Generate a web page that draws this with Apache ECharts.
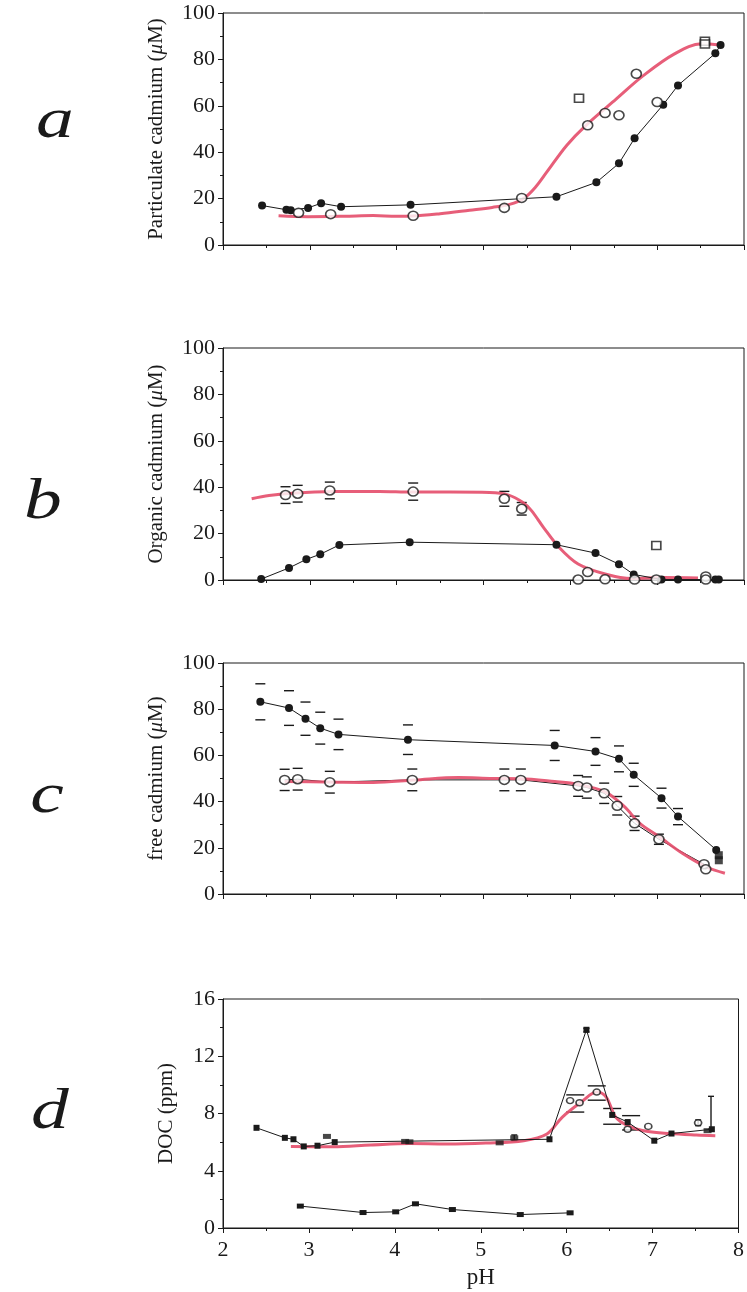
<!DOCTYPE html>
<html><head><meta charset="utf-8">
<script src="https://cdn.jsdelivr.net/npm/echarts@6/dist/echarts.min.js"></script>
<style>html,body{margin:0;padding:0;background:#fff}#c{width:747px;height:1292px}</style>
</head><body><div id="c"></div>
<script>
// ---- tick values / labels ----
const xTicks = [2, 3, 4, 5, 6, 7, 8];
const yTicksCd = [0, 20, 40, 60, 80, 100];
const yTicksDoc = [0, 4, 8, 12, 16];
const panelNames = ['Particulate cadmium (μM)', 'Organic cadmium (μM)', 'free cadmium (μM)', 'DOC (ppm)'];
const panelLetters = ['a', 'b', 'c', 'd'];
const xName = 'pH';

// ---- panel a : particulate cadmium ----
const aFilled = [[2.45,17.0],[2.73,15.2],[2.78,15.0],[2.98,16.0],[3.13,18.0],[3.36,16.5],[4.16,17.3],[5.84,20.8],[6.30,27.0],[6.56,35.2],[6.74,46.0],[7.07,60.5],[7.24,68.8],[7.67,82.6],[7.73,86.2]];
const aOpen = [[2.87,13.9],[3.24,13.3],[4.19,12.6],[5.24,16.0],[5.44,20.3],[6.20,51.6],[6.40,56.9],[6.56,55.9],[6.76,73.8],[7.00,61.6]];
const aOpenSquare = [[6.10,63.3],[7.55,87.8],[7.55,86.6]];
const aCurve = [[2.64,12.6],[2.98,12.2],[3.4,12.4],[3.73,12.7],[4.0,12.4],[4.18,12.5],[4.5,13.5],[4.84,15.0],[5.1,16.2],[5.3,17.5],[5.47,20.3],[5.6,25.0],[5.73,31.5],[5.96,43.0],[6.18,51.6],[6.53,63.0],[6.84,73.0],[7.2,82.4],[7.51,86.7],[7.73,86.2]];

// ---- panel b : organic cadmium ----
const bFilled = [[2.44,0.4],[2.76,5.2],[2.96,8.9],[3.12,11.1],[3.34,15.1],[4.15,16.3],[5.84,15.2],[6.29,11.6],[6.56,6.8],[6.73,2.4],[7.05,0.2],[7.24,0.2],[7.67,0.2],[7.71,0.2]];
const bOpen = [[2.72,36.6],[2.86,37.2],[3.23,38.6],[4.19,38.1],[5.24,35.0],[5.44,30.7],[6.09,0.2],[6.20,3.4],[6.40,0.3],[6.74,0.2],[6.99,0.2],[7.56,1.5],[7.56,0.2]];
const bOpenSquare = [[6.99,14.9]];
const bOpenErr = [[2.72,36.6,3.6],[2.86,37.2,3.6],[3.23,38.6,3.6],[4.19,38.1,3.7],[5.24,35.0,3.2],[5.44,30.7,2.7]];
const bCurve = [[2.33,35.0],[2.53,36.4],[2.84,37.5],[3.29,38.1],[3.8,38.2],[4.18,37.9],[4.62,37.9],[5.07,37.7],[5.29,36.6],[5.45,33.5],[5.55,30.0],[5.69,22.7],[5.87,14.1],[6.09,6.9],[6.4,2.6],[6.71,0.6],[7.07,1.1],[7.47,0.9]];

// ---- panel c : free cadmium ----
const cFilled = [[2.43,83.2],[2.76,80.5],[2.95,75.9],[3.12,71.8],[3.33,69.1],[4.13,66.8],[5.82,64.3],[6.29,61.7],[6.56,58.5],[6.73,51.6],[7.05,41.5],[7.24,33.5],[7.68,19.1]];
const cFilledSquare = [[7.71,16.8],[7.71,14.6]];
const cFilledErr = [[2.43,83.2,7.8],[2.76,80.5,7.5],[2.95,75.9,7.2],[3.12,71.8,6.9],[3.33,69.1,6.6],[4.13,66.8,6.4],[5.82,64.3,6.5],[6.29,61.7,6.0],[6.56,58.5,5.6],[6.73,51.6,5.0],[7.05,41.5,4.3],[7.24,33.5,3.5]];
const cOpen = [[2.71,49.4],[2.86,49.7],[3.23,48.4],[4.18,49.4],[5.24,49.4],[5.43,49.4],[6.09,46.8],[6.19,46.1],[6.39,43.6],[6.54,38.2],[6.74,30.6],[7.02,23.7],[7.54,12.9],[7.56,10.7]];
const cOpenErr = [[2.71,49.4,4.6],[2.86,49.7,4.7],[3.23,48.4,4.7],[4.18,49.4,4.7],[5.24,49.4,4.7],[5.43,49.4,4.7],[6.09,46.8,4.5],[6.19,46.1,4.6],[6.39,43.6,4.4],[6.54,38.2,4.0],[6.74,30.6,3.1],[7.02,23.7,2.2]];
const cCurve = [[2.71,48.7],[3.2,48.5],[3.73,48.3],[4.2,49.3],[4.71,50.4],[5.1,50.0],[5.42,49.9],[5.82,48.7],[6.09,47.5],[6.4,44.2],[6.62,37.9],[6.8,30.6],[7.02,24.9],[7.29,17.6],[7.56,11.8],[7.78,9.0]];

// ---- panel d : DOC ----
const dUpperLine = [[2.39,7.0],[2.72,6.3],[2.82,6.2],[2.94,5.7],[3.10,5.75],[3.30,6.0],[5.80,6.2],[6.23,13.85],[6.53,7.9],[6.71,7.4],[7.02,6.1],[7.22,6.6],[7.69,6.9]];
const dUpperExtra = [[3.21,6.4],[4.12,6.05],[4.17,6.02],[5.22,5.95],[5.39,6.3],[7.64,6.8]];
const dOpen = [[6.04,8.9],[6.15,8.75],[6.35,9.5],[6.95,7.1],[6.71,6.9],[7.53,7.35]];
const dErrDash = [[6.1,8.7,0.6],[6.35,9.43,0.5],[6.53,7.8,0.55],[6.75,7.35,0.5]];
const dErrBar = [[5.39,6.1,6.5],[7.68,6.9,9.2],[7.53,7.15,7.55],[6.23,13.7,13.95]];
const dLower = [[2.90,1.53],[3.63,1.08],[4.01,1.13],[4.24,1.69],[4.67,1.29],[5.46,0.94],[6.04,1.06]];
const dCurve = [[2.79,5.7],[3.28,5.68],[3.72,5.8],[4.17,5.9],[4.61,5.87],[5.06,5.94],[5.5,6.1],[5.77,6.57],[5.95,7.75],[6.17,8.8],[6.35,9.5],[6.46,9.15],[6.57,7.75],[6.71,7.16],[6.93,6.76],[7.2,6.6],[7.51,6.5],[7.73,6.45]];

// ---------------------------------------------------------------
const INK = '#1a1a1a';
const PINK = '#e5506e';
const FONT = '"Liberation Serif", "DejaVu Serif", serif';
const grids = [
  {left: 223, width: 521, top: 13, height: 232},
  {left: 223, width: 521, top: 348, height: 232},
  {left: 223, width: 521, top: 663, height: 231},
  {left: 223, width: 521, top: 999, height: 229}
];
const yTickSets = [yTicksCd, yTicksCd, yTicksCd, yTicksDoc];
const nameGaps = [56, 56, 56, 46];

function nameRich(s) {
  if (s.indexOf('μ') < 0) return s;
  const parts = s.split('μ');
  return '{n|' + parts[0] + '}{i|μ}{n|' + parts[1] + '}';
}

const xAxes = [], yAxes = [];
grids.forEach((g, i) => {
  const base = {
    gridIndex: i, type: 'value', min: xTicks[0], max: xTicks[xTicks.length - 1],
    interval: xTicks[1] - xTicks[0], splitLine: {show: false}
  };
  xAxes.push(Object.assign({}, base, {
    axisLine: {show: true, onZero: false, lineStyle: {color: INK, width: 1}},
    axisTick: {show: true, length: 5, lineStyle: {color: INK, width: 1}},
    minorTick: {show: true, splitNumber: 2, length: 3, lineStyle: {color: INK, width: 1}},
    axisLabel: {show: i === 3, color: INK, fontFamily: FONT, fontSize: 22, margin: 11},
    name: i === 3 ? xName : '', nameLocation: 'middle', nameGap: 38,
    nameTextStyle: {color: INK, fontFamily: FONT, fontSize: 23}
  }));
  xAxes.push(Object.assign({}, base, {
    axisLine: {show: false},
    axisTick: {show: true, inside: true, length: 4, lineStyle: {color: INK, width: 1}},
    minorTick: {show: true, splitNumber: 2, length: 3, lineStyle: {color: INK, width: 1}},
    axisLabel: {show: false}
  }));
  const yt = yTickSets[i];
  yAxes.push({
    gridIndex: i, type: 'value', min: yt[0], max: yt[yt.length - 1], interval: yt[1] - yt[0],
    splitLine: {show: false},
    axisLine: {show: true, onZero: false, lineStyle: {color: INK, width: 1}},
    axisTick: {show: true, length: 5, lineStyle: {color: INK, width: 1}},
    minorTick: {show: true, splitNumber: 2, length: 3, lineStyle: {color: INK, width: 1}},
    axisLabel: {color: INK, fontFamily: FONT, fontSize: 22, margin: 8},
    name: nameRich(panelNames[i]), nameLocation: 'middle', nameGap: nameGaps[i],
    nameTextStyle: {
      color: INK, fontFamily: FONT, fontSize: 21,
      rich: {
        n: {color: INK, fontFamily: FONT, fontSize: 21},
        i: {color: INK, fontFamily: FONT, fontSize: 21, fontStyle: 'italic'}
      }
    }
  });
});

function ax(i) { return {xAxisIndex: 2 * i, yAxisIndex: i}; }

function lineSeries(i, data, opts) {
  return Object.assign({
    type: 'line', data: data, smooth: false, z: 4,
    symbol: 'circle', symbolSize: 8,
    itemStyle: {color: INK, borderColor: INK, borderWidth: 0},
    lineStyle: {color: INK, width: 1}
  }, ax(i), opts || {});
}
function curveSeries(i, data) {
  return Object.assign({
    type: 'line', data: data, smooth: 0.35, showSymbol: false, z: 3,
    lineStyle: {color: PINK, width: 3, opacity: 0.92}
  }, ax(i));
}
function openSeries(i, data, symbol, size) {
  return Object.assign({
    type: 'scatter', data: data, symbol: symbol || 'circle', symbolSize: size || [10, 9], z: 5,
    itemStyle: {color: '#fff', borderColor: INK, borderWidth: 1.6}
  }, ax(i));
}
function filledScatter(i, data, symbol, size) {
  return Object.assign({
    type: 'scatter', data: data, symbol: symbol || 'circle', symbolSize: size || 8, z: 5,
    itemStyle: {color: INK}
  }, ax(i));
}
function errDashSeries(i, data, half) {
  return Object.assign({
    type: 'custom', data: data, z: 2, encode: {x: 0, y: 1},
    renderItem: function (params, api) {
      const x = api.value(0), y = api.value(1), e = api.value(2);
      const p1 = api.coord([x, y + e]), p2 = api.coord([x, y - e]);
      const st = {stroke: INK, lineWidth: 1.4};
      return {type: 'group', children: [
        {type: 'line', shape: {x1: p1[0] - half, y1: p1[1], x2: p1[0] + half, y2: p1[1]}, style: st},
        {type: 'line', shape: {x1: p2[0] - half, y1: p2[1], x2: p2[0] + half, y2: p2[1]}, style: st}
      ]};
    }
  }, ax(i));
}
function errBarSeries(i, data) {
  return Object.assign({
    type: 'custom', data: data, z: 2, encode: {x: 0, y: [1, 2]},
    renderItem: function (params, api) {
      const x = api.value(0), lo = api.value(1), hi = api.value(2);
      const p1 = api.coord([x, lo]), p2 = api.coord([x, hi]);
      const st = {stroke: INK, lineWidth: 1.4};
      return {type: 'group', children: [
        {type: 'line', shape: {x1: p1[0], y1: p1[1], x2: p2[0], y2: p2[1]}, style: st},
        {type: 'line', shape: {x1: p1[0] - 3, y1: p1[1], x2: p1[0] + 3, y2: p1[1]}, style: st},
        {type: 'line', shape: {x1: p2[0] - 3, y1: p2[1], x2: p2[0] + 3, y2: p2[1]}, style: st}
      ]};
    }
  }, ax(i));
}

const series = [
  // a
  lineSeries(0, aFilled),
  curveSeries(0, aCurve),
  openSeries(0, aOpen),
  openSeries(0, aOpenSquare, 'rect', [9, 8]),
  // b
  lineSeries(1, bFilled),
  curveSeries(1, bCurve),
  errDashSeries(1, bOpenErr, 5),
  openSeries(1, bOpen),
  openSeries(1, bOpenSquare, 'rect', [9, 8]),
  // c
  errDashSeries(2, cFilledErr, 5),
  errDashSeries(2, cOpenErr, 5),
  lineSeries(2, cFilled),
  lineSeries(2, cOpen, {showSymbol: false, z: 2}),
  curveSeries(2, cCurve),
  openSeries(2, cOpen),
  filledScatter(2, cFilledSquare, 'rect', 8),
  // d
  errDashSeries(3, dErrDash, 9),
  errBarSeries(3, dErrBar),
  curveSeries(3, dCurve),
  lineSeries(3, dUpperLine, {symbolSize: 6, symbol: 'rect'}),
  filledScatter(3, dUpperExtra, 'rect', [8, 5]),
  openSeries(3, dOpen, 'circle', [7, 6]),
  lineSeries(3, dLower, {symbol: 'rect', symbolSize: [7, 5]})
];

const letterPos = [[55, 122], [43, 503], [47, 797], [50, 1113]];
const graphic = panelLetters.map((t, i) => ({
  type: 'text', x: letterPos[i][0], y: letterPos[i][1], scaleX: 1.35, z: 10,
  style: {text: t, fill: INK, font: 'italic 56px ' + FONT, textAlign: 'center', textVerticalAlign: 'middle'}
}));

const chart = echarts.init(document.getElementById('c'), null, {renderer: 'canvas'});
chart.setOption({
  animation: false,
  backgroundColor: '#fff',
  grid: grids.map(g => Object.assign({show: true, borderColor: INK, borderWidth: 1, backgroundColor: 'transparent'}, g)),
  xAxis: xAxes,
  yAxis: yAxes,
  series: series,
  graphic: graphic
});
</script></body></html>
